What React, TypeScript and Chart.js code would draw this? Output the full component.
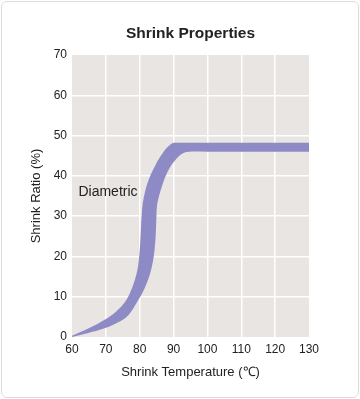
import React, { useEffect, useRef } from "react";
import { Chart, registerables } from "chart.js";

Chart.register(...registerables);

// Upper (left) edge of the band, from 60 °C up the S-curve and along the plateau
const upperTemp = [60, 63, 66, 69, 72, 75, 77, 78.5, 79.4, 79.9, 80.2, 80.4, 80.6, 80.9, 81.5, 82.3, 83.3, 84.6, 86.2, 87.8, 89.4, 91, 100, 110, 120, 130, 136];
const upperRatio = [0.3, 1.4, 2.6, 4, 5.6, 8, 10.7, 14, 17, 20.5, 24, 27.5, 30.5, 33.2, 35.8, 38.2, 40.4, 42.6, 44.9, 46.8, 48, 48.2, 48.2, 48.2, 48.2, 48.2, 48.2];
// Lower (right) edge of the band, same direction
const lowerTemp = [60, 63, 66, 69, 72, 75, 77, 79, 81, 82.6, 83.6, 84.3, 84.7, 84.9, 85.1, 85.7, 86.6, 87.7, 89, 90.6, 92.5, 94.5, 100, 110, 120, 130, 136];
const lowerRatio = [0, 0.6, 1.3, 2, 3, 4.3, 5.8, 8.4, 11.3, 14.5, 17.5, 21, 25, 29, 32.5, 35, 37.5, 40, 42.2, 44, 45.5, 46, 46, 46, 46, 46, 46];

const xTicks = [60, 70, 80, 90, 100, 110, 120, 130];
const yTicks = [0, 10, 20, 30, 40, 50, 60, 70];

const seriesName = "Diametric";
const labelAt = { x: 61.9, y: 35 };

const FONT = "'Liberation Sans', Arial, Helvetica, sans-serif";
const TEXT = "#222";

export default function App() {
  const ref = useRef<HTMLCanvasElement | null>(null);

  useEffect(() => {
    if (!ref.current) return;
    const shape = [
      ...upperTemp.map((x, i) => ({ x, y: upperRatio[i] })),
      ...lowerTemp.map((x, i) => ({ x, y: lowerRatio[i] })).reverse(),
    ];

    const bgPlugin = {
      id: "plotBg",
      beforeDraw(chart: any) {
        const { ctx, chartArea } = chart;
        ctx.save();
        ctx.fillStyle = "#e8e5e2";
        ctx.fillRect(chartArea.left, chartArea.top, chartArea.right - chartArea.left, chartArea.bottom - chartArea.top);
        ctx.restore();
      },
    };
    const labelPlugin = {
      id: "bandLabel",
      afterDatasetsDraw(chart: any) {
        const { ctx } = chart;
        const xs = chart.scales.x;
        const ys = chart.scales.y;
        ctx.save();
        ctx.font = `14px ${FONT}`;
        ctx.fillStyle = TEXT;
        ctx.textAlign = "left";
        ctx.textBaseline = "alphabetic";
        ctx.fillText(seriesName, xs.getPixelForValue(labelAt.x), ys.getPixelForValue(labelAt.y));
        ctx.restore();
      },
    };

    const edgeGrid = (min: number, max: number) => (c: any) =>
      c.tick && (c.tick.value === min || c.tick.value === max) ? "rgba(0,0,0,0)" : "#ffffff";

    const chart = new Chart(ref.current, {
      type: "line",
      data: {
        datasets: [
          {
            label: seriesName,
            data: shape,
            fill: "shape",
            backgroundColor: "#8d8ac5",
            borderWidth: 0,
            borderColor: "rgba(0,0,0,0)",
            pointRadius: 0,
            tension: 0.35,
          } as any,
        ],
      },
      options: {
        animation: false,
        responsive: false,
        events: [],
        layout: { padding: { left: 25, right: 51, top: 14, bottom: 15 } },
        plugins: {
          legend: { display: false },
          tooltip: { enabled: false },
          title: {
            display: true,
            text: "Shrink Properties",
            fullSize: false,
            color: TEXT,
            font: { family: FONT, size: 15.5, weight: "bold" },
            padding: { top: 10.7, bottom: 11.7 },
          },
        },
        scales: {
          x: {
            type: "linear",
            min: 60,
            max: 130,
            afterBuildTicks: (s: any) => {
              s.ticks = xTicks.map((v) => ({ value: v }));
            },
            ticks: { color: TEXT, font: { family: FONT, size: 12 }, padding: 5, maxRotation: 0 },
            grid: { color: edgeGrid(60, 130), lineWidth: 1.5, drawTicks: false },
            border: { display: false },
            title: {
              display: true,
              text: "Shrink Temperature (℃)",
              color: TEXT,
              font: { family: FONT, size: 13 },
              padding: { top: 3, bottom: 4 },
            },
          },
          y: {
            type: "linear",
            min: 0,
            max: 70,
            afterBuildTicks: (s: any) => {
              s.ticks = yTicks.map((v) => ({ value: v }));
            },
            afterFit: (s: any) => {
              s.width = 47;
            },
            ticks: { color: TEXT, font: { family: FONT, size: 12 }, padding: 5 },
            grid: { color: edgeGrid(0, 70), lineWidth: 1.5, drawTicks: false },
            border: { display: false },
            title: {
              display: true,
              text: "Shrink Ratio (%)",
              color: TEXT,
              font: { family: FONT, size: 13 },
              padding: { top: 4, bottom: 4 },
            },
          },
        },
      } as any,
      plugins: [bgPlugin, labelPlugin],
    });
    return () => chart.destroy();
  }, []);

  return (
    <div style={{ position: "absolute", left: 0, top: 0, width: 360, height: 399, background: "#fff" }}>
      <canvas ref={ref} width={360} height={399} style={{ display: "block", width: 360, height: 399 }} />
      <div
        style={{
          position: "absolute",
          left: 1,
          top: 1,
          width: 358,
          height: 397,
          boxSizing: "border-box",
          border: "1px solid #dcdcdc",
          borderRadius: 6,
          pointerEvents: "none",
        }}
      />
    </div>
  );
}
